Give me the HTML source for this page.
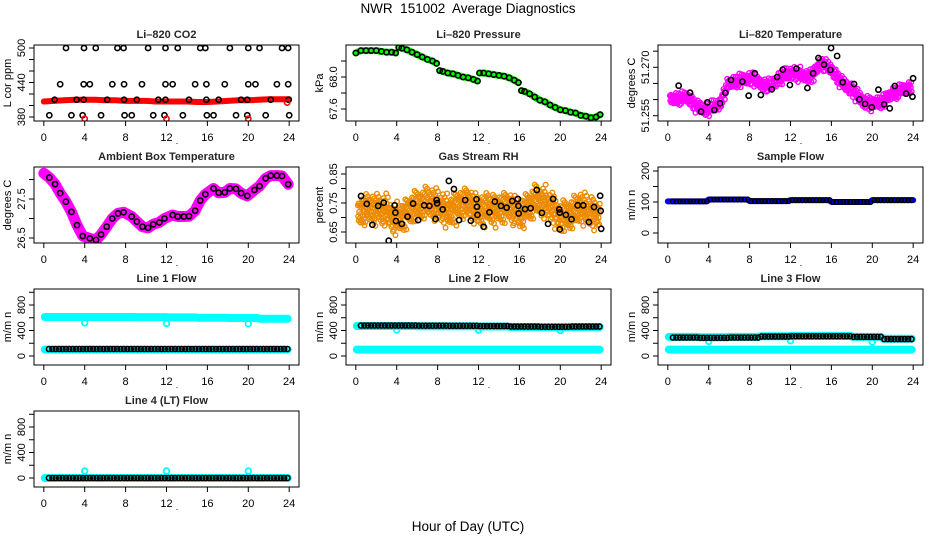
<!DOCTYPE html>
<html><head><meta charset="utf-8"><style>
html,body{margin:0;padding:0;background:#fff}
svg{display:block}
text{font-family:"Liberation Sans",sans-serif;fill:#000}
</style></head><body>
<svg id="chart" width="936" height="540" viewBox="0 0 936 540" xmlns="http://www.w3.org/2000/svg">
<text x="468" y="13" font-size="13.5" text-anchor="middle" style="white-space:pre">NWR  151002  Average Diagnostics</text>
<text x="468" y="531" font-size="13.5" text-anchor="middle">Hour of Day (UTC)</text>
</svg>
<script>
// ---------- data ----------
const xTicks = [0,4,8,12,16,20,24];
// CO2
const co2RedHours = [0,1,2,3,4,5,6,7,8,9,10,11,12,13,14,15,16,17,18,19,20,21,22,23,24];
const co2RedValues = [407,408,409,410,410,410,409,409,408,408,408,407,407,407,407,406,406,407,408,409,409,410,411,411,411];
const co2BlackHours = [2.17,3.93,5.08,7.2,7.8,10.2,11.9,13.1,15.3,15.8,18.2,20.0,21.1,23.3,23.9,
 1.6,3.9,4.5,6.7,7.85,9.6,11.9,12.6,14.8,15.9,17.7,20,20.7,22.8,23.9,
 1.06,3.2,3.9,6.2,7.85,9.1,11.2,11.9,14.2,15.9,17.1,19.3,19.9,22.2,23.95,
 0.54,2.7,3.8,5.6,7.9,8.6,10.7,11.8,13.6,15.95,16.6,18.8,19.9,21.7,24];
const co2BlackValues = [500,500,500,500,500,500,500,500,500,500,500,500,500,500,500,
 437,437,437,437,437,437,437,437,437,437,437,437,437,437,437,
 410,410,410,410,410,410,410,410,410,410,410,410,410,410,410,
 383,383,383,383,383,383,383,383,383,383,383,383,383,383,383];
const co2RedPointHours = [4,12,20,23.8];
const co2RedPointValues = [377,377,377,405];
// Pressure
const pressureHours = [0,0.5,1,1.5,2,2.5,3,3.5,3.9,4.2,4.5,5,5.5,6,6.5,7,7.5,7.9,8.2,8.5,9,9.5,10,10.5,11,11.5,11.9,12.1,12.5,13,13.5,14,14.5,15,15.5,15.9,16.2,16.5,17,17.5,18,18.5,19,19.5,20,20.5,21,21.5,22,22.5,23,23.5,23.9];
const pressureValues = [68.30,68.33,68.33,68.33,68.33,68.32,68.31,68.31,68.30,68.37,68.36,68.34,68.31,68.28,68.25,68.22,68.20,68.17,68.08,68.07,68.05,68.04,68.02,68.00,67.99,67.97,67.95,68.05,68.05,68.04,68.03,68.02,68.01,67.99,67.96,67.93,67.83,67.82,67.79,67.75,67.71,67.69,67.65,67.62,67.59,67.58,67.56,67.55,67.52,67.51,67.49,67.50,67.53];
const pressureBreaks = [4,8,12,16];
// Li-820 temperature
const tempCloudHours = [0,1,2,3,4,5,6,7,8,9,10,11,12,13,14,15,16,17,18,19,20,21,22,23,24];
const tempCloudValues = [51.25998,51.26051,51.26051,51.25738,51.25687,51.25841,51.26513,51.26616,51.26668,51.26513,51.26410,51.26668,51.26823,51.26771,51.26720,51.27134,51.26926,51.26513,51.26306,51.25944,51.25893,51.25944,51.26202,51.26306,51.26410];
const tempBlackHours = [1.06,2.17,3.25,3.87,4.55,5.11,5.63,6.18,7.29,7.91,8.51,9.1,10.17,10.69,11.25,11.94,12.57,13.65,14.21,14.73,15.28,15.97,15.9,16.56,17.11,18.22,18.74,19.3,19.95,20.6,21.16,21.71,22.2,23.31,23.99,23.93];
const tempBlackValues = [51.26431,51.26214,51.25625,51.25914,51.25677,51.25883,51.26204,51.26607,51.26555,51.26121,51.26813,51.26142,51.26317,51.26700,51.26927,51.26452,51.26958,51.26359,51.26813,51.27289,51.27082,51.27599,51.26917,51.27351,51.26534,51.26483,51.26007,51.25863,51.25759,51.26307,51.25852,51.25728,51.26421,51.26183,51.26658,51.26090];
// Ambient box temperature
const ambHours = [0,0.54,1.1,1.6,2.16,2.7,3.25,3.8,4.5,5.1,5.6,6.15,6.7,7.25,7.8,8.6,9.1,9.65,10.2,10.7,11.3,11.8,12.6,13.1,13.7,14.2,14.8,15.3,15.8,16.6,17.1,17.7,18.2,18.8,19.3,19.9,20.6,21.1,21.7,22.2,22.8,23.3,23.9];
const ambValues = [28.16,28.05,27.88,27.65,27.43,27.17,26.83,26.55,26.49,26.45,26.59,26.79,27.0,27.13,27.16,27.05,26.92,26.79,26.76,26.85,26.90,27.0,27.09,27.05,27.05,27.06,27.20,27.46,27.62,27.77,27.66,27.67,27.77,27.76,27.65,27.58,27.73,27.83,28.03,28.10,28.10,28.09,27.88];
// Gas stream RH
const rhCloudHours = [0,1,2,3,4,5,6,7,8,9,10,11,12,13,14,15,16,17,18,19,20,21,22,23,24];
const rhCloudValues = [0.71,0.73,0.73,0.72,0.69,0.72,0.74,0.75,0.74,0.72,0.74,0.75,0.72,0.73,0.73,0.74,0.71,0.74,0.76,0.74,0.70,0.71,0.73,0.72,0.71];
const rhBlackHours = [0.51,1.07,1.62,2.18,2.73,3.22,3.8,3.87,3.93,4.5,5.06,5.6,6.1,6.68,7.2,7.8,7.9,7.95,8.5,9.1,9.6,10.1,10.7,11.25,11.8,11.85,11.9,12.5,13.07,13.6,14.2,14.75,15.3,15.85,15.9,15.93,16.55,17.1,17.7,18.2,18.8,19.3,19.9,19.95,19.95,20.55,21.1,21.7,22.25,22.8,23.3,23.9,23.95,24.0];
const rhBlackValues = [0.774,0.747,0.675,0.740,0.751,0.620,0.742,0.717,0.688,0.678,0.703,0.748,0.691,0.742,0.740,0.695,0.760,0.749,0.728,0.826,0.798,0.691,0.760,0.689,0.763,0.737,0.709,0.668,0.718,0.755,0.740,0.734,0.757,0.764,0.740,0.714,0.729,0.732,0.795,0.716,0.678,0.764,0.728,0.717,0.659,0.709,0.694,0.742,0.742,0.684,0.736,0.775,0.723,0.661];
// Flows
const sampleFlowBlock = [102,108,103,106,100,106];
const spikeHours = [4,12,20];
const line1Black = [110,110,110,110,110,110,110,110];
const line1Cyan = [612,612,612,610,606,600,596,585];
const line1CyanLow = [100,100,100,100,100,100,100,100];
const line1Spike = [520,510,505];
const line2Black = [478,478,476,474,470,462,458,462];
const line2Cyan = [470,470,468,466,462,455,450,455];
const line2CyanLow = [100,100,100,100,100,100,100,100];
const line2Spike = [410,405,400];
const line3Black = [290,285,290,305,310,310,300,265];
const line3Cyan = [300,295,300,310,315,315,300,270];
const line3CyanLow = [100,100,100,100,100,100,100,100];
const line3Spike = [230,240,220];
const line4Black = [0,0,0,0,0,0,0,0];
const line4Cyan = [0,0,0,0,0,0,0,0];
const line4Spike = [110,110,110];

// ---------- drawing ----------
const svg = document.getElementById('chart');
const NS = 'http://www.w3.org/2000/svg';
const colX = [34,346,658];
const W = 265, H = 76;
function mk(tag, attrs, parent){ const e=document.createElementNS(NS,tag); for(const k in attrs) e.setAttribute(k,attrs[k]); (parent||svg).appendChild(e); return e; }
function interp(hs, vs, t){ if(t<=hs[0]) return vs[0]; for(let i=1;i<hs.length;i++){ if(t<=hs[i]){ const f=(t-hs[i-1])/(hs[i]-hs[i-1]); return vs[i-1]+f*(vs[i]-vs[i-1]); } } return vs[vs.length-1]; }
function blockVal(arr, t){ const n=arr.length; let i=Math.floor(t/(24/n)); if(i>=n) i=n-1; if(i<0) i=0; return arr[i]; }

function panel(c, r, title, ylab, map, ticks, labels, name){
  const bx = colX[c], by = 45 + 122*r;
  const g = mk('g', {});
  
  
  const xs = h => bx + (h + 0.96) * W / 25.92;
  const ys = v => by + map[1] + (v - map[0]) * (map[3] - map[1]) / (map[2] - map[0]);
  const cid = 'clip-' + name;
  const cp = mk('clipPath', {id: cid}, g);
  mk('rect', {x: bx, y: by, width: W, height: H}, cp);
  const marks = mk('g', {'clip-path': 'url(#' + cid + ')'}, g);
  
  
  const t = mk('text', {x: bx + W/2, y: by - 7, 'font-size': 11, 'text-anchor': 'middle', 'font-weight': 'bold', 'fill-opacity': 0.85}, g);
  
  
  t.textContent = title;
  const box = mk('rect', {x: bx, y: by, width: W, height: H, fill: 'none', stroke: '#000', 'stroke-width': 1}, g);
  
  
  xTicks.forEach(v => {
    const x = xs(v);
    const tk = mk('line', {x1: x, x2: x, y1: by + H, y2: by + H + 5, stroke: '#000'}, g);
    
    
    const lb = mk('text', {x: x, y: by + H + 20, 'font-size': 11, 'text-anchor': 'middle'}, g);
    
    
    lb.textContent = v;
  });
  const dot = mk('text', {x: bx + 143, y: by + 99, 'font-size': 9, 'text-anchor': 'middle'}, g);
  
  
  dot.textContent = '.';
  ticks.forEach(v => {
    const y = ys(v);
    const tk = mk('line', {x1: bx - 5, x2: bx, y1: y, y2: y, stroke: '#000'}, g);
    
    
  });
  labels.forEach(v => {
    const y = ys(parseFloat(v));
    const lb = mk('text', {transform: 'translate(' + (bx - 9) + ',' + y + ') rotate(-90)', 'font-size': 11, 'text-anchor': 'middle'}, g);
    
    
    lb.textContent = v;
  });
  const yl = mk('text', {transform: 'translate(' + (bx - 23) + ',' + (by + H/2) + ') rotate(-90)', 'font-size': 11, 'text-anchor': 'middle'}, g);
  
  
  yl.textContent = ylab;
  return {g: marks, xs, ys};
}
function circ(p, x, y, col, nm, r, sw){
  const e = mk('circle', {cx: x, cy: y, r: r || 2.6, fill: 'none', stroke: col, 'stroke-width': sw || 1.6}, p);
  
  
}
function band(p, pts, col, w, nm){
  const e = mk('polyline', {points: pts.map(q => q[0].toFixed(1) + ',' + q[1].toFixed(1)).join(' '), fill: 'none', stroke: col, 'stroke-width': w, 'stroke-linejoin': 'round', 'stroke-linecap': 'round'}, p);
  
  
}
function cloud(P, hs, vs, col, spread, n, nm, sw){
  for(let k = 0; k < n; k++){
    const t = 0.2 + (k / n) * 23.7;
    const oy = (((k * 0.6180339) % 1) - 0.5) * 2 * spread * (0.4 + 0.6 * ((k * 0.41421) % 1));
    circ(P.g, P.xs(t), P.ys(interp(hs, vs, t)) + oy, col, nm, 2.3, sw || 1.2);
  }
}

// Li-820 CO2
let P = panel(0, 0, 'Li\u2013820 CO2', 'L cor ppm', [380, 72, 500, 3], [380,400,420,440,460,480,500], ['380','440','500'], 'co2');
band(P.g, co2RedHours.map((h, i) => [P.xs(h), P.ys(co2RedValues[i])]), '#ff0000', 6, 'co2-red-series');
co2BlackHours.forEach((h, i) => circ(P.g, P.xs(h), P.ys(co2BlackValues[i]), '#000', 'co2-point'));
co2RedPointHours.forEach((h, i) => circ(P.g, P.xs(h), P.ys(co2RedPointValues[i]), '#ff0000', 'co2-red-point'));

// Pressure
P = panel(1, 0, 'Li\u2013820 Pressure', 'kPa', [67.6, 64, 68.0, 32], [67.6,67.8,68.0,68.2], ['67.6','68.0'], 'pressure');
{
  let seg = [];
  pressureHours.forEach((h, i) => {
    if(i > 0 && pressureBreaks.some(b => pressureHours[i-1] < b && h >= b)){ band(P.g, seg, '#00ff00', 7, 'pressure-green-series'); seg = []; }
    seg.push([P.xs(h), P.ys(pressureValues[i])]);
  });
  band(P.g, seg, '#00ff00', 7, 'pressure-green-series');
  pressureHours.forEach((h, i) => circ(P.g, P.xs(h), P.ys(pressureValues[i]), '#000', 'pressure-point'));
}

// Li-820 Temperature
P = panel(2, 0, 'Li\u2013820 Temperature', 'degrees C', [51.255, 70.7, 51.270, 22.3], [51.255,51.260,51.265,51.270,51.275], ['51.255','51.270'], 'li820-temp');
cloud(P, tempCloudHours, tempCloudValues, '#ff00ff', 9, 520, 'temp-magenta-point', 1.4);
tempBlackHours.forEach((h, i) => circ(P.g, P.xs(h), P.ys(tempBlackValues[i]), '#000', 'temp-point'));

// Ambient box temperature
P = panel(0, 1, 'Ambient Box Temperature', 'degrees C', [26.5, 71, 27.5, 32], [26.5,27.0,27.5,28.0], ['26.5','27.5'], 'ambient');
band(P.g, ambHours.map((h, i) => [P.xs(h), P.ys(ambValues[i])]), '#ff00ff', 11, 'ambient-magenta-series');
ambHours.forEach((h, i) => { if(i > 0) circ(P.g, P.xs(h), P.ys(ambValues[i]), '#000', 'ambient-point'); });

// Gas stream RH
P = panel(1, 1, 'Gas Stream RH', 'percent', [0.65, 65, 0.85, 7], [0.65,0.70,0.75,0.80,0.85], ['0.65','0.75','0.85'], 'rh');
cloud(P, rhCloudHours, rhCloudValues, '#ec8a00', 20, 760, 'rh-orange-point', 1.4);
rhBlackHours.forEach((h, i) => circ(P.g, P.xs(h), P.ys(rhBlackValues[i]), '#000', 'rh-point'));

// Sample flow
P = panel(2, 1, 'Sample Flow', 'm/m n', [0, 66, 200, 4], [0,50,100,150,200], ['0','100','200'], 'sample-flow');
{
  const pts = [];
  for(let t = 0; t <= 24.001; t += 0.25) pts.push([P.xs(t), P.ys(blockVal(sampleFlowBlock, t))]);
  band(P.g, pts, '#0000ff', 6, 'sample-flow-blue-series');
  for(let t = 0.5; t <= 24.001; t += 1/3) circ(P.g, P.xs(t), P.ys(blockVal(sampleFlowBlock, t)), '#000', 'sample-flow-point', 2.4, 1.3);
}

// Line flows
function flowPanel(c, r, title, name, black, cyan, cyanLow, spike){
  const P = panel(c, r, title, 'm/m n', [0, 67, 800, 16], [0,200,400,600,800,1000], ['0','400','800'], name);
  const arrs = cyanLow ? [cyan, cyanLow] : [cyan];
  arrs.forEach(a => {
    const pts = [];
    for(let t = 0.1; t <= 23.85; t += 0.25) pts.push([P.xs(t), P.ys(blockVal(a, t))]);
    band(P.g, pts, '#00ffff', 8, name + '-cyan-series');
  });
  spikeHours.forEach((h, i) => circ(P.g, P.xs(h), P.ys(spike[i]), '#00ffff', name + '-cyan-spike', 2.8, 1.8));
  for(let t = 0.5; t <= 24.001; t += 1/3) circ(P.g, P.xs(t), P.ys(blockVal(black, t)), '#000', name + '-point', 2.5, 1.6);
}
flowPanel(0, 2, 'Line 1 Flow', 'line1-flow', line1Black, line1Cyan, line1CyanLow, line1Spike);
flowPanel(1, 2, 'Line 2 Flow', 'line2-flow', line2Black, line2Cyan, line2CyanLow, line2Spike);
flowPanel(2, 2, 'Line 3 Flow', 'line3-flow', line3Black, line3Cyan, line3CyanLow, line3Spike);
flowPanel(0, 3, 'Line 4 (LT) Flow', 'line4-flow', line4Black, line4Cyan, null, line4Spike);
</script>
</body></html>
